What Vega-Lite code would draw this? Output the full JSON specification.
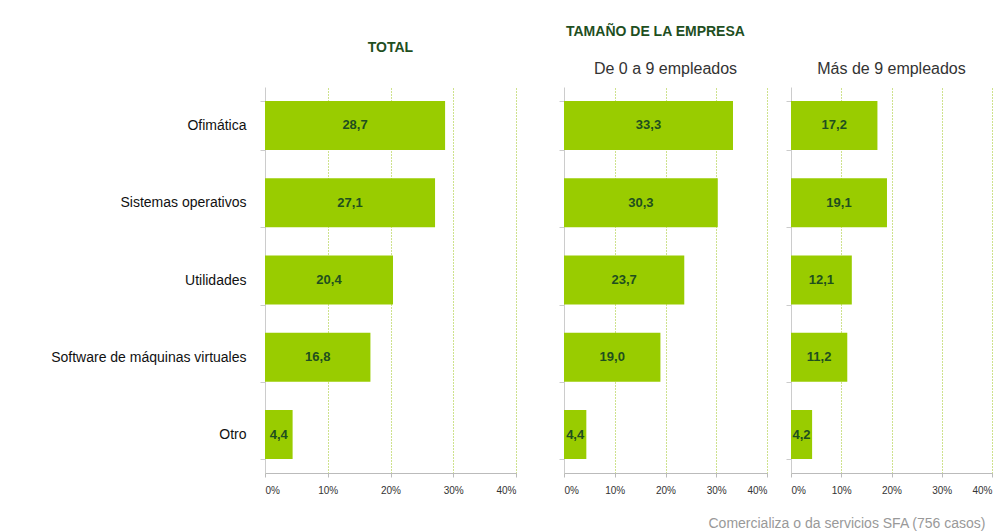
{
  "$schema": "https://vega.github.io/schema/vega-lite/v6.json",
  "background": "white",
  "padding": {"left": 5, "top": 25, "right": 5, "bottom": 5},
  "config": {
    "locale": {"number": {"decimal": ",", "thousands": ".", "grouping": [3], "currency": ["", " €"]}},
    "view": {"stroke": null},
    "font": "Liberation Sans",
    "title": {"font": "Liberation Sans"}
  },
  "datasets": {
    "d": [
      {"categoria": "Ofimática", "grupo": "TOTAL", "valor": 28.7},
      {"categoria": "Sistemas operativos", "grupo": "TOTAL", "valor": 27.1},
      {"categoria": "Utilidades", "grupo": "TOTAL", "valor": 20.4},
      {"categoria": "Software de máquinas virtuales", "grupo": "TOTAL", "valor": 16.8},
      {"categoria": "Otro", "grupo": "TOTAL", "valor": 4.4},
      {"categoria": "Ofimática", "grupo": "De 0 a 9 empleados", "valor": 33.3},
      {"categoria": "Sistemas operativos", "grupo": "De 0 a 9 empleados", "valor": 30.3},
      {"categoria": "Utilidades", "grupo": "De 0 a 9 empleados", "valor": 23.7},
      {"categoria": "Software de máquinas virtuales", "grupo": "De 0 a 9 empleados", "valor": 19.0},
      {"categoria": "Otro", "grupo": "De 0 a 9 empleados", "valor": 4.4},
      {"categoria": "Ofimática", "grupo": "Más de 9 empleados", "valor": 17.2},
      {"categoria": "Sistemas operativos", "grupo": "Más de 9 empleados", "valor": 19.1},
      {"categoria": "Utilidades", "grupo": "Más de 9 empleados", "valor": 12.1},
      {"categoria": "Software de máquinas virtuales", "grupo": "Más de 9 empleados", "valor": 11.2},
      {"categoria": "Otro", "grupo": "Más de 9 empleados", "valor": 4.2}
    ]
  },
  "title": {"text": "Comercializa o da servicios SFA (756 casos)", "orient": "bottom", "anchor": "end", "color": "#999999", "fontSize": 14, "fontWeight": "normal", "offset": 22, "dx": -7},
  "spacing": 39,
  "hconcat": [
    {
      "width": 251, "height": 386,
      "data": {"name": "d"},
      "transform": [{"filter": "datum.grupo === 'TOTAL'"}, {"calculate": "datum.valor / 2", "as": "mitad"}],
      "title": {"text": "TOTAL", "fontSize": 14, "fontWeight": "bold", "color": "#1F4F1F", "offset": 25},
      "encoding": {
        "y": {"field": "categoria", "type": "nominal", "sort": ["Ofimática", "Sistemas operativos", "Utilidades", "Software de máquinas virtuales", "Otro"],
          "scale": {"paddingInner": 0.365, "paddingOuter": 0.18},
          "axis": {"title": null, "labelFontSize": 14, "labelColor": "#111111", "labelPadding": 14, "tickBand": "extent", "tickSize": 5, "tickColor": "#CCCCCC", "domainColor": "#CCCCCC", "minExtent": 260, "maxExtent": 260, "labelLimit": 300}}
      },
      "layer": [
        {"mark": {"type": "bar", "color": "#99CC00"},
         "encoding": {"x": {"field": "valor", "type": "quantitative", "scale": {"domain": [0, 40], "nice": false},
           "axis": {"title": null, "values": [0, 10, 20, 30, 40], "labelExpr": "datum.value + '%'", "grid": true, "gridColor": "#9CC51A", "gridDash": [1, 2], "domainColor": "#BBBBBB", "tickColor": "#BBBBBB", "tickSize": 4, "labelFontSize": 10, "labelColor": "#333333", "labelPadding": 8}}}},
        {"mark": {"type": "text", "color": "#1F4F1F", "fontWeight": "bold", "fontSize": 13},
         "encoding": {"x": {"field": "mitad", "type": "quantitative"}, "text": {"field": "valor", "type": "quantitative", "format": ".1f"}}}
      ]
    },
    {
      "title": {"text": "TAMAÑO DE LA EMPRESA", "anchor": "start", "fontSize": 14, "fontWeight": "bold", "color": "#1F4F1F", "offset": 22, "dx": 10},
      "spacing": 15,
      "hconcat": [
        {
          "width": 203, "height": 386,
          "data": {"name": "d"},
          "transform": [{"filter": "datum.grupo === 'De 0 a 9 empleados'"}, {"calculate": "datum.valor / 2", "as": "mitad"}],
          "title": {"text": "De 0 a 9 empleados", "fontSize": 16, "fontWeight": "normal", "color": "#333333", "offset": 10},
          "encoding": {
            "y": {"field": "categoria", "type": "nominal", "sort": ["Ofimática", "Sistemas operativos", "Utilidades", "Software de máquinas virtuales", "Otro"],
              "scale": {"paddingInner": 0.365, "paddingOuter": 0.18},
              "axis": {"title": null, "labels": false, "tickBand": "extent", "tickSize": 5, "tickColor": "#CCCCCC", "domainColor": "#CCCCCC", "minExtent": 8, "maxExtent": 8}}
          },
          "layer": [
            {"mark": {"type": "bar", "color": "#99CC00"},
             "encoding": {"x": {"field": "valor", "type": "quantitative", "scale": {"domain": [0, 40], "nice": false},
               "axis": {"title": null, "values": [0, 10, 20, 30, 40], "labelExpr": "datum.value + '%'", "grid": true, "gridColor": "#9CC51A", "gridDash": [1, 2], "domainColor": "#BBBBBB", "tickColor": "#BBBBBB", "tickSize": 4, "labelFontSize": 10, "labelColor": "#333333", "labelPadding": 8}}}},
            {"mark": {"type": "text", "color": "#1F4F1F", "fontWeight": "bold", "fontSize": 13},
             "encoding": {"x": {"field": "mitad", "type": "quantitative"}, "text": {"field": "valor", "type": "quantitative", "format": ".1f"}}}
          ]
        },
        {
          "width": 201, "height": 386,
          "data": {"name": "d"},
          "transform": [{"filter": "datum.grupo === 'Más de 9 empleados'"}, {"calculate": "datum.valor / 2", "as": "mitad"}],
          "title": {"text": "Más de 9 empleados", "fontSize": 16, "fontWeight": "normal", "color": "#333333", "offset": 10},
          "encoding": {
            "y": {"field": "categoria", "type": "nominal", "sort": ["Ofimática", "Sistemas operativos", "Utilidades", "Software de máquinas virtuales", "Otro"],
              "scale": {"paddingInner": 0.365, "paddingOuter": 0.18},
              "axis": {"title": null, "labels": false, "tickBand": "extent", "tickSize": 5, "tickColor": "#CCCCCC", "domainColor": "#CCCCCC", "minExtent": 8, "maxExtent": 8}}
          },
          "layer": [
            {"mark": {"type": "bar", "color": "#99CC00"},
             "encoding": {"x": {"field": "valor", "type": "quantitative", "scale": {"domain": [0, 40], "nice": false},
               "axis": {"title": null, "values": [0, 10, 20, 30, 40], "labelExpr": "datum.value + '%'", "grid": true, "gridColor": "#9CC51A", "gridDash": [1, 2], "domainColor": "#BBBBBB", "tickColor": "#BBBBBB", "tickSize": 4, "labelFontSize": 10, "labelColor": "#333333", "labelPadding": 8}}}},
            {"mark": {"type": "text", "color": "#1F4F1F", "fontWeight": "bold", "fontSize": 13},
             "encoding": {"x": {"field": "mitad", "type": "quantitative"}, "text": {"field": "valor", "type": "quantitative", "format": ".1f"}}}
          ]
        }
      ]
    }
  ]
}
